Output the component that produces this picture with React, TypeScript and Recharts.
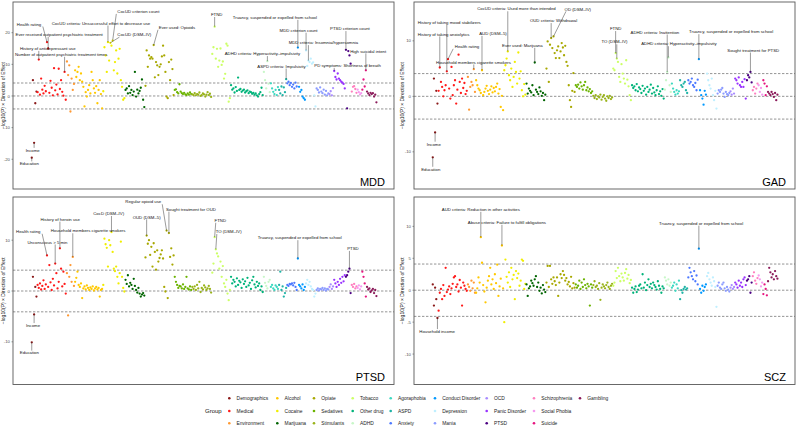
import React from 'react';
import { ScatterChart, Scatter, XAxis, YAxis, ReferenceLine } from 'recharts';

// Phenotype groups, in plotting order (legend is filled column by column)
const GROUPS = [
  'Demographics', 'Medical', 'Environment',
  'Alcohol', 'Cocaine', 'Marijuana',
  'Opiate', 'Sedatives', 'Stimulants',
  'Tobacco', 'Other drug', 'ADHD',
  'Agoraphobia', 'ASPD', 'Anxiety',
  'Conduct Disorder', 'Depression', 'Mania',
  'OCD', 'Panic Disorder', 'PTSD',
  'Schizophrenia', 'Social Phobia', 'Suicide',
  'Gambling',
];

const GROUP_COLORS = [
  '#8B1A1A', '#FF1A1A', '#FF9933',
  '#FFC800', '#F0EE00', '#006400',
  '#A8A800', '#6BB300', '#99B31A',
  '#CCFF66', '#00B37A', '#C8F7C8',
  '#3DD9C1', '#1FB3A6', '#4D79FF',
  '#0099FF', '#BFEFFF', '#8C9CFF',
  '#A98CFF', '#9933FF', '#4B0082',
  '#FF7FBF', '#F59AF0', '#E6157F',
  '#8B1A5A',
];

// -log10(P) x direction of effect, one list per group (same order as GROUPS)
const mddValues = [
  [-19.5, 5.0, -14.8, -2.3, 1.4],
  [1.2, 11.5, 0.4, 5.5, 2.0, 0.8, 3.2, 1.5, 17.0, 15.0, 1.0, 4.8, 2.6, 0.2, 8.8, 1.8, 3.6, 0.5, 8.6, 2.2, 5.0, 1.3, 0.1, 7.6, -1.2],
  [10.9, 6.6, 9.7, -4.9, 5.5, 1.9, 3.8],
  [8.1, 6.0, 7.6, 9.2, 5.0, 7.1, 4.5, 2.9, -3.3, 1.2, -0.2, 1.9, 3.4, 0.8, 7.6, 5.0, 2.4, 1.0, 3.1, -2.3, 1.9, 5.0, 0.6, -3.9],
  [1.5, 15.4, 12.8, 7.6, 17.0, 11.2, 16.8, 15.9, 17.5, 8.1, 10.7, 14.4, 7.1, 11.8, 14.9, 5.0, 2.9, -1.2, -0.7],
  [1.9, 2.4, 0.8, 3.1, 1.0, 1.9, 0.3, 1.4, 7.6, -0.2, 2.0, 0.8, 1.6, 2.6, 5.2, -1.2, -3.5],
  [3.2, 14.4, 9.2, 12.8, 11.8, 12.3, 11.8, 16.1, 5.9, 10.7, 9.7, 6.6, 9.2, 10.0, 12.5, 15.9, 12.8, 7.6, -0.2, -0.7, 10.7, 5.0, 11.5, 8.5, 0.3],
  [1.9, 2.1, 1.2, 0.8, 3.7, 1.4, 0.9, 0.6, 1.0, 0.5, 0.3, 0.8, 0.4, 1.1, 0.6],
  [0.5, 0.3, 0.9, 0.2, 0.6, 0.4, 1.1, 0.0, 0.3, 0.8, 0.5, -0.2, 0.4, 1.2, 0.3, 0.7, -0.3],
  [13.3, 15.4, 21.9, 11.8, 14.9, 9.2, 11.2, 15.0, 9.8, 10.9, 5.5, 7.0, 16.5, 15.9, -1.8, -0.7],
  [3.4, 2.0, 2.4, 1.1, 2.8, 1.6, 5.8, 1.9, 2.2, 1.3, 1.7, 2.0, 1.1, 1.5, 1.8, 0.9, 1.4, 1.2, 0.7, 1.0, 0.4, 0.8, 0.2, -0.2, 0.6, 1.2, 2.6, 0.3],
  [7.6, 5.0, 2.4, 11.0, 3.9, 1.2],
  [4.0, 2.4, 1.3, 0.6, 1.9, 0.3, 2.8],
  [1.9, 0.8, 3.0, 0.3, 2.7, 1.2, 5.3],
  [4.0, 4.5, 3.4, 4.1, 2.9, 3.6, 2.4, 4.2, 3.0],
  [15.3, 2.9, 1.3, 1.9, -0.2, -0.7, -1.2],
  [14.4, 9.5, 11.2, 10.7, 11.8, 10.2, 10.6, 0.2, -3.3],
  [2.4, 1.9, 1.1, 2.7, 1.4, 0.9, 2.0, 0.4, 1.6, 0.2, 0.8],
  [0.6, 1.5, 0.2, 2.5],
  [7.9, 6.0, 5.2, 7.1, 5.5, 5.0, 4.5, 4.2, 3.8, 2.4],
  [14.6, -3.9, 14.2, 12.8, 10.2],
  [1.4, 2.9, 3.1, 2.2, 1.0],
  [2.0, 1.2, 0.5, 0.9],
  [2.0, 5.2, 3.0, 8.1],
  [1.4, 0.8, 0.3, 1.0, 0.6, 0.9, -0.2, 0.4, -2.0],
];

const gadValues = [
  [-11.0, 3.2, -6.5, 1.0, -1.3],
  [1.0, 5.2, 2.6, 1.7, 0.0, 1.1, 2.0, 4.5, 6.7, 1.4, -0.4, 5.3, 0.2, 2.0, 2.9, -1.3, 1.2, 7.5, 2.6, 0.6, 3.2, 1.5, 2.4, 0.4, 1.0],
  [3.5, -2.4, 1.7, 2.6, 2.0, 4.9, 0.8],
  [2.9, 2.0, 1.4, 1.1, 0.6, 4.7, 0.2, 0.8, 1.4, 1.9, 1.0, 0.4, 1.2, 1.8, 0.7, 1.5, 0.9, 1.7, 2.3, 0.5, 1.3, -1.9, 0.1, -2.5],
  [4.7, 5.6, 6.8, 8.1, 3.8, 2.9, 5.0, 1.7, 3.5, 6.2, 4.4, 2.3, 7.9, 3.2, 4.5, 1.1, 0.0, 2.2, 0.3],
  [2.3, 0.5, 1.4, 1.0, 0.7, 2.0, 0.2, 6.1, 1.2, 0.8, 0.4, 1.6, 0.9, 0.1, 0.6, -0.7, 0.3],
  [5.0, 9.9, 2.6, 9.3, 10.5, 8.7, 10.8, 7.8, 6.9, 8.3, 9.0, 6.9, 8.1, 9.6, 8.8, 7.4, 9.1, 6.2, 5.5, 2.0, -0.7, -1.9, 1.0, 4.2, 0.8],
  [2.0, 1.7, 2.1, 1.4, 2.5, 1.8, 1.2, 2.0, 2.6, 1.1, 1.6, 0.9, 1.3, 0.6, 0.9],
  [0.1, -0.3, 0.2, -0.5, 0.0, -0.2, 0.3, -0.6, -0.1, 0.2, -0.4, -0.8, 0.0, -0.3, 0.1, -0.5, -0.2],
  [5.0, 4.7, 7.8, 6.8, 6.2, 3.5, 2.6, 5.8, 4.1, 3.2, 2.3, 6.5, 3.0, 1.8, 0.2, -0.7],
  [2.0, 1.5, 1.8, 1.1, 2.2, 0.9, 1.6, 1.3, 0.6, 1.9, 1.0, 1.4, 0.3, 1.7, 0.8, 1.2, 2.1, 0.5, 1.5, 0.7, 0.2, 1.1, 1.8, 0.4, 0.9, 0.1, 1.3, -0.4],
  [1.2, 2.9, 4.4, 7.0, 2.0, 0.8],
  [2.3, 1.4, 0.8, 0.3, 1.1, 0.5, 0.9],
  [2.9, 2.0, 1.7, 2.3, 2.6, 1.1, 0.6],
  [2.9, 2.3, 2.6, 3.2, 2.0, 1.7, 2.4, 1.1, 3.0],
  [6.7, 1.1, 0.2, -0.4, -1.5, 1.0, 0.3],
  [4.1, 2.9, 2.0, 1.4, 3.2, 0.2, -0.7, 1.0, -2.2],
  [0.5, 1.1, 0.8, 1.2, 1.5, 0.5, -0.1, 0.8, 0.4, 0.2, 0.6],
  [0.9, 0.3, 1.4, 0.5],
  [3.2, 2.9, 2.3, 3.4, 2.0, 1.7, 2.6, 1.7, 3.1, -0.4],
  [2.9, 3.8, 3.4, 4.4, 2.5],
  [1.1, 1.7, 0.5, 1.4, 2.3],
  [2.0, 0.8, 1.5, 0.3],
  [2.9, 2.3, 0.2, 1.8],
  [0.8, 0.5, 0.2, 0.8, 0.4, -0.1, 0.6, -0.7, 0.3],
];

const ptsdValues = [
  [-10.1, 2.8, -4.6, 0.8, -1.1],
  [1.2, 0.6, 1.5, 0.3, 1.0, 2.1, 0.4, 1.3, 7.0, 0.8, 5.1, 1.7, 0.2, 2.4, 1.1, 5.4, 3.5, 0.5, 1.8, 8.4, 4.4, 0.9, 3.8, 1.4, -0.5],
  [3.5, -4.8, 2.8, 5.1, 1.8, 6.7, 1.0],
  [1.8, 2.6, 3.8, 1.2, 0.8, 1.5, -1.4, 0.5, 0.9, 0.3, 1.1, 0.6, 0.2, 0.7, 0.4, 0.9, 0.1, 0.5, 0.8, 0.3, 0.6, -1.1, 0.2, 0.4],
  [1.2, 10.3, 9.2, 8.5, 4.8, 10.0, 9.0, 11.6, 7.7, 4.4, 3.9, 4.8, 2.8, 1.5, 3.5, 9.7, 2.8, 0.6, -0.1],
  [2.2, 1.4, 3.1, 0.9, 1.6, 1.2, 0.4, 2.4, 1.0, 0.2, -0.3, 0.6, -0.5, -1.1, -0.7, -0.4, -0.9],
  [6.6, 10.9, 9.3, 10.0, 7.1, 8.7, 4.8, 9.4, 7.7, 4.2, 8.0, 5.8, 6.5, 7.2, 8.0, 6.4, 0.8, -0.1, 11.9, -1.4, 11.4, 6.7, 8.4, 5.2, 7.0],
  [2.8, 1.8, 1.2, 0.6, 1.0, 0.9, 0.5, 1.3, 0.4, 0.8, 2.8, 0.5, 0.3, 0.9, 0.2],
  [0.8, 0.4, 0.9, 0.2, 1.2, 0.5, 1.8, -0.2, 0.6, 0.3, 1.1, 0.7, 0.2, 0.5, 1.0, 0.4, -0.3],
  [3.6, 5.4, 10.6, 8.2, 7.4, 6.8, 4.4, 5.8, 2.8, 4.9, 1.5, 0.8, 2.2, -0.5, -1.8, 0.2],
  [2.8, 1.5, 2.2, 1.8, 0.9, 2.5, 1.2, 2.0, 1.7, 0.6, 2.3, 1.4, 1.9, 0.8, 2.6, 1.1, 1.6, 0.4, 2.1, 2.8, 1.3, 0.7, 1.8, 1.0, 1.5, 0.2, 0.9, -0.2],
  [2.8, 1.6, 1.0, 0.5, 1.8, 2.2],
  [0.8, 1.2, 0.5, 0.2, 1.1, 0.8, 0.4],
  [1.2, 3.8, 0.2, 0.9, -1.1, -0.4, 0.6],
  [1.2, 1.0, 1.4, 1.3, 1.5, 1.1, 1.6, 0.8, 0.2],
  [6.4, 1.2, 0.9, 0.5, 1.3, 0.2, 0.8],
  [1.5, 2.2, 1.2, 1.8, 0.9, 0.4, 0.2, -1.1, -0.5],
  [0.2, 0.5, 0.1, 0.4, 0.3, 0.6, 0.2, 0.5, 0.1, 0.4, 0.3],
  [0.8, 1.3, 0.4, 0.9],
  [2.2, 1.5, 0.8, 1.8, 1.2, 2.4, 1.6, 2.8, 1.9, 3.1],
  [2.8, 3.1, 3.8, 4.4, -0.4],
  [1.2, 0.8, 1.4, 0.5, 0.9],
  [0.6, 1.1, 0.3, 0.9],
  [3.8, 2.8, 1.5, -1.1],
  [0.8, 0.3, 0.5, -0.2, 0.1, 0.4, -0.4, 0.2, -1.0],
];

const sczValues = [
  [0.9, -2.4, 0.4, -1.4, -4.35],
  [-3.2, -0.4, 0.2, -1.4, 0.8, -0.9, 3.5, -0.3, 0.1, 0.6, -0.6, 0.3, 1.0, 2.0, 2.2, 0.5, 0.9, -0.2, 1.6, 0.4, -2.4, 1.2, 0.7, 0.2, -0.1],
  [0.9, 0.5, -0.1, 1.5, 0.3, 1.2, -0.4],
  [-0.4, 0.3, 2.0, 1.2, 8.3, 4.3, 0.8, -0.2, -1.9, 0.4, 1.5, 2.2, 3.5, 0.9, 1.7, 0.2, 2.5, 1.1, 4.0, -0.9, 0.6, 1.8, 7.0, 0.3],
  [-5.0, 4.8, 2.1, 1.2, 2.8, 0.5, 3.5, 1.7, 2.4, -1.4, 3.0, 1.9, 2.6, 0.7, 1.5, 4.8, 4.6, 0.2, 1.0],
  [0.9, -0.9, 0.3, 0.6, 1.5, 1.1, 0.7, 1.7, 2.2, 0.5, 1.2, -0.1, 0.4, -0.5, 0.8, 0.1, -0.3],
  [1.2, 3.8, 0.5, 3.8, 1.7, 1.0, 2.0, 1.4, 0.8, 2.0, -0.9, 1.2, 2.5, 1.9, 3.0, 2.4, 1.5, 1.9, 0.9, 1.3, 0.6, 2.1, 0.3, 1.1, 0.4],
  [0.9, 0.4, 0.7, 1.5, 0.2, 1.2, 0.5, 1.7, 0.8, 0.3, 1.0, 0.6, -2.4, 0.9, 0.4],
  [0.8, 1.4, 0.5, 0.7, 0.2, 1.1, -1.5, 0.4, 0.9, 0.6, 0.3, 0.8, 1.2, 0.5, 0.2, 0.7, 1.0],
  [0.7, 1.2, 3.0, 1.9, 3.5, 2.2, 1.4, 2.6, 2.0, 1.5, 2.7, 3.3, 1.8, 2.4, 1.1, 1.6],
  [0.4, -0.4, 0.2, 0.6, -0.3, 0.1, 0.7, 0.9, 0.3, 2.5, 0.4, 1.2, 0.0, 0.8, 1.7, 0.5, 1.0, 0.3, 1.2, 0.8, 0.5, 0.1, 1.4, 0.7, 0.2, -0.4, 0.6, 0.3],
  [2.0, 1.5, 0.9, 1.7, 0.7, 1.2],
  [0.4, 0.7, 1.2, -0.1, 0.9, 0.3, 1.5],
  [-1.4, 0.0, -0.4, 0.2, 0.5, 0.1, 0.3],
  [2.0, 3.5, 2.8, 2.2, 1.7, 3.0, 1.4, 2.3, 0.9],
  [6.5, 0.2, -0.4, 0.7, -0.1, 0.5, 0.9],
  [2.2, 2.7, 1.7, 1.2, 0.7, 2.0, 1.4, 0.5, -2.6],
  [0.7, 1.2, 0.4, 0.2, 0.9, 1.2, 0.3, -0.1, 0.5, 0.1, -0.2],
  [0.4, 0.8, 0.2, 0.5],
  [1.2, 0.9, 0.4, 1.5, 0.7, 1.2, 0.5, 1.7, 2.0, 0.8],
  [1.5, 1.7, 2.2, -0.4, 1.2],
  [2.2, 2.8, 1.5, 1.0, 1.9],
  [2.3, 1.7, 0.6, 1.2],
  [-0.6, 0.9, 0.2, -0.8],
  [1.4, 3.5, 2.8, 2.0, 2.5, 1.7, 3.0, 2.2, 1.8],
];

const mddTicks = [-20, -10, 0, 10, 20];
const gadTicks = [-10, 0, 10];
const ptsdTicks = [-10, 0, 10];
const sczTicks = [-10, -5, 0, 5, 10];

// labelled phenotypes: group, index in group, text offset from the point (px)
const mddLabels = [
  { group: 'Medical', i: 8, text: 'Health rating', dx: -18, dy: -18 },
  { group: 'Medical', i: 9, text: 'Ever received outpatient psychiatric treatment', dx: 11, dy: -14 },
  { group: 'Medical', i: 1, text: 'History of antidepressant use', dx: 9, dy: -11 },
  { group: 'Medical', i: 23, text: 'Number of outpatient psychiatric treatment times', dx: -3.4, dy: -17.4 },
  { group: 'Cocaine', i: 8, text: 'CocUD criterion count', dx: 25.7, dy: -29 },
  { group: 'Cocaine', i: 4, text: 'CocUD criteria: Unsuccessful effort to decrease use', dx: -7, dy: -19 },
  { group: 'Cocaine', i: 6, text: 'CocUD (DSM\u2013IV)', dx: 24, dy: -8 },
  { group: 'Opiate', i: 7, text: 'Ever used: Opioids', dx: 23.3, dy: -17.6 },
  { group: 'Tobacco', i: 2, text: 'FTND', dx: 2, dy: -12 },
  { group: 'Conduct Disorder', i: 0, text: 'Truancy, suspended or expelled from school', dx: -23, dy: -30 },
  { group: 'Depression', i: 0, text: 'MDD criterion count', dx: -7.5, dy: -20 },
  { group: 'Depression', i: 2, text: 'MDD criteria: Insomnia/hypersomnia', dx: 15, dy: -17.7 },
  { group: 'PTSD', i: 0, text: 'PTSD criterion count', dx: 4, dy: -21 },
  { group: 'Suicide', i: 3, text: 'High suicidal intent', dx: 2.3, dy: -19.3 },
  { group: 'ADHD', i: 3, text: 'ADHD criteria: Hyperactivity\u2013impulsivity', dx: -5, dy: -7.4 },
  { group: 'ASPD', i: 6, text: 'ASPD criteria: Impulsivity', dx: -4.7, dy: -13 },
  { group: 'Panic Disorder', i: 0, text: 'PD symptoms: Shortness of breath', dx: 13.4, dy: -5.4 },
  { group: 'Demographics', i: 2, text: 'Income', dx: -1.4, dy: 7.4 },
  { group: 'Demographics', i: 0, text: 'Education', dx: -2.5, dy: 6 },
];

const gadLabels = [
  { group: 'Medical', i: 7, text: 'History of taking mood stabilizers', dx: 2.4, dy: -49.3 },
  { group: 'Medical', i: 1, text: 'History of taking anxiolytics', dx: 3.8, dy: -33.4 },
  { group: 'Medical', i: 8, text: 'Health rating', dx: 19, dy: -12.6 },
  { group: 'Environment', i: 5, text: 'Household members cigarette smokers', dx: -0.3, dy: -7 },
  { group: 'Alcohol', i: 5, text: 'AUD (DSM\u20135)', dx: 11, dy: -36.7 },
  { group: 'Cocaine', i: 3, text: 'CocUD criteria: Used more than intended', dx: 8.7, dy: -42.4 },
  { group: 'Marijuana', i: 7, text: 'Ever used: Marijuana', dx: -12.4, dy: -17 },
  { group: 'Opiate', i: 4, text: 'OUD criteria: Withdrawal', dx: 2.4, dy: -17.3 },
  { group: 'Opiate', i: 6, text: 'OD (DSM\u2013IV)', dx: 24.3, dy: -27.4 },
  { group: 'Tobacco', i: 2, text: 'FTND', dx: 0, dy: -24.3 },
  { group: 'Tobacco', i: 3, text: 'TO (DSM\u2013IV)', dx: -2.3, dy: -16.6 },
  { group: 'ADHD', i: 2, text: 'ADHD criteria: Inattention', dx: -12.3, dy: -39.7 },
  { group: 'ADHD', i: 3, text: 'ADHD criteria: Hyperactivity\u2013impulsivity', dx: 10.5, dy: -13.6 },
  { group: 'Conduct Disorder', i: 0, text: 'Truancy, suspended or expelled from school', dx: 32.2, dy: -27.3 },
  { group: 'PTSD', i: 3, text: 'Sought treatment for PTSD', dx: 2.8, dy: -21.7 },
  { group: 'Demographics', i: 2, text: 'Income', dx: -1.3, dy: 11.6 },
  { group: 'Demographics', i: 0, text: 'Education', dx: -2, dy: 11.7 },
];

const ptsdLabels = [
  { group: 'Medical', i: 8, text: 'Health rating', dx: -18.7, dy: -24 },
  { group: 'Medical', i: 15, text: 'Unconscious > 5 min', dx: -7.8, dy: -21.4 },
  { group: 'Medical', i: 19, text: 'History of heroin use', dx: 0.3, dy: -29 },
  { group: 'Environment', i: 5, text: 'Household members cigarette smokers', dx: 15.3, dy: -26 },
  { group: 'Cocaine', i: 7, text: 'CocD (DSM\u2013IV)', dx: -2.8, dy: -18.4 },
  { group: 'Opiate', i: 1, text: 'OUD (DSM\u20135)', dx: 0, dy: -18.6 },
  { group: 'Opiate', i: 18, text: 'Regular opioid use', dx: -23.3, dy: -28.6 },
  { group: 'Opiate', i: 20, text: 'Sought treatment for OUD', dx: 22, dy: -23.7 },
  { group: 'Tobacco', i: 2, text: 'FTND', dx: 5.7, dy: -16.7 },
  { group: 'Tobacco', i: 3, text: 'TO (DSM\u2013IV)', dx: 12.8, dy: -17.6 },
  { group: 'Conduct Disorder', i: 0, text: 'Truancy, suspended or expelled from school', dx: 1.8, dy: -20.6 },
  { group: 'PTSD', i: 3, text: 'PTSD', dx: 3.5, dy: -20 },
  { group: 'Demographics', i: 2, text: 'Income', dx: -1.1, dy: 11 },
  { group: 'Demographics', i: 0, text: 'Education', dx: -2.4, dy: 10.6 },
];

const sczLabels = [
  { group: 'Alcohol', i: 4, text: 'AUD criteria: Reduction in other activities', dx: 0, dy: -27.7 },
  { group: 'Alcohol', i: 22, text: 'Abuse criteria: Failure to fulfill obligations', dx: 5, dy: -23 },
  { group: 'Conduct Disorder', i: 0, text: 'Truancy, suspended or expelled from school', dx: 2.2, dy: -25.4 },
  { group: 'Demographics', i: 4, text: 'Household income', dx: -0.3, dy: 13.4 },
];

const X_DOMAIN = [-16, 309];
const THRESHOLD = 4.1;
const FONT = '"Liberation Sans", Arial, Helvetica, sans-serif';
const Y_TITLE = '\u2212log10(P) \u00d7 Direction of Effect';

// legend layout
const LEGEND_COLS = [229.3, 277.3, 314, 352.7, 390.7, 435, 486.7, 534, 580];
const LEGEND_ROWS = [398.3, 411, 423.3];

function buildSeries(values: number[][]) {
  let offset = 0;
  return values.map((vals, g) => {
    const start = offset;
    offset += vals.length;
    return {
      group: GROUPS[g],
      color: GROUP_COLORS[g],
      start,
      points: vals.map((v, i) => ({ x: start + i, y: v })),
    };
  });
}

function LabelMark(props: any) {
  const { cx, cy, payload } = props;
  if (cx == null || cy == null) return null;
  const { text, dx, dy } = payload;
  const tx = cx + dx;
  const ty = cy + dy;
  const w = text.length * 2.05 + 1;
  const h = 4.6;
  // segment ends at the nearest edge of the text box
  const nx = Math.max(tx - w / 2, Math.min(cx, tx + w / 2));
  const ny = Math.max(ty - h / 2, Math.min(cy, ty + h / 2));
  const dist = Math.hypot(nx - cx, ny - cy);
  return (
    <g>
      {dist > 2.5 && (
        <line x1={cx} y1={cy} x2={nx} y2={ny} stroke="#222" strokeWidth={0.45} />
      )}
      <text x={tx} y={ty} textAnchor="middle" dominantBaseline="central" fontSize={4.3} fill="#111">
        {text}
      </text>
    </g>
  );
}

interface PanelProps {
  values: number[][];
  labels: { group: string; i: number; text: string; dx: number; dy: number }[];
  domain: number[];
  ticks: number[];
  left: number;
  top: number;
  plotHeight: number;
}

function Panel({ values, labels, domain, ticks, left, top, plotHeight }: PanelProps) {
  const series = buildSeries(values);
  const labelData = labels.map((l) => {
    const g = GROUPS.indexOf(l.group);
    return { x: series[g].start + l.i, y: values[g][l.i], text: l.text, dx: l.dx, dy: l.dy };
  });
  const dash = { stroke: '#4d4d4d', strokeDasharray: '2.4 1.6', strokeWidth: 0.6 };

  return (
    <div style={{ position: 'absolute', left, top }}>
      <ScatterChart
        width={400}
        height={plotHeight + 6}
        margin={{ top: 2, right: 6, bottom: 4, left: 0 }}
      >
        <XAxis type="number" dataKey="x" domain={X_DOMAIN} hide allowDataOverflow />
        <YAxis
          type="number"
          dataKey="y"
          domain={domain}
          ticks={ticks}
          interval={0}
          allowDataOverflow
          width={13}
          tickSize={1.5}
          tickMargin={1.5}
          axisLine={false}
          tickLine={{ stroke: '#333', strokeWidth: 0.5 }}
          tick={{ fontSize: 4.3, fill: '#4d4d4d' }}
        />
        <ReferenceLine y={THRESHOLD} {...dash} />
        <ReferenceLine y={0} {...dash} />
        <ReferenceLine y={-THRESHOLD} {...dash} />
        {series.map((s) => (
          <Scatter
            key={s.group}
            name={s.group}
            data={s.points}
            fill={s.color}
            isAnimationActive={false}
            shape={(p: any) => <circle cx={p.cx} cy={p.cy} r={1.15} fill={s.color} />}
          />
        ))}
        <Scatter
          name="labels"
          data={labelData}
          isAnimationActive={false}
          shape={(p: any) => <LabelMark {...p} />}
        />
      </ScatterChart>
    </div>
  );
}

const PANELS = [
  { name: 'MDD', x: 13, y: 2, h: 187, titleX: 3.3 },
  { name: 'GAD', x: 414, y: 2, h: 187, titleX: 401.5 },
  { name: 'PTSD', x: 13, y: 197, h: 187.5, titleX: 3.3 },
  { name: 'SCZ', x: 414, y: 197, h: 187.5, titleX: 401.5 },
];

export default function App() {
  return (
    <div
      style={{
        position: 'absolute',
        left: 0,
        top: 0,
        width: 798,
        height: 431,
        background: '#fff',
        fontFamily: FONT,
        overflow: 'hidden',
      }}
    >
      <Panel values={mddValues} labels={mddLabels} domain={[-29.4, 29.7]} ticks={mddTicks} left={0} top={0} plotHeight={187} />
      <Panel values={gadValues} labels={gadLabels} domain={[-16.7, 17]} ticks={gadTicks} left={401} top={0} plotHeight={187} />
      <Panel values={ptsdValues} labels={ptsdLabels} domain={[-18.4, 18.5]} ticks={ptsdTicks} left={0} top={195} plotHeight={187.5} />
      <Panel values={sczValues} labels={sczLabels} domain={[-14.77, 14.6]} ticks={sczTicks} left={401} top={195} plotHeight={187.5} />

      <svg
        width={798}
        height={431}
        style={{ position: 'absolute', left: 0, top: 0, pointerEvents: 'none' }}
      >
        {PANELS.map((p) => (
          <g key={p.name}>
            <rect x={p.x} y={p.y} width={381} height={p.h} fill="none" stroke="#595959" strokeWidth={0.9} />
            <text x={p.x + 372} y={p.y + p.h - 3.2} textAnchor="end" fontSize={11} fill="#000">
              {p.name}
            </text>
            <text
              x={p.titleX}
              y={p.y + p.h / 2}
              transform={`rotate(-90 ${p.titleX} ${p.y + p.h / 2})`}
              textAnchor="middle"
              dominantBaseline="central"
              fontSize={5}
              fill="#111"
            >
              {Y_TITLE}
            </text>
          </g>
        ))}

        <text x={205} y={411} dominantBaseline="central" fontSize={6} fill="#111">
          Group
        </text>
        {GROUPS.map((g, k) => {
          const cx = LEGEND_COLS[Math.floor(k / 3)];
          const cy = LEGEND_ROWS[k % 3];
          return (
            <g key={g}>
              <circle cx={cx} cy={cy} r={1.3} fill={GROUP_COLORS[k]} />
              <text x={cx + 7.3} y={cy} dominantBaseline="central" fontSize={4.9} fill="#222">
                {g}
              </text>
            </g>
          );
        })}
      </svg>
    </div>
  );
}
